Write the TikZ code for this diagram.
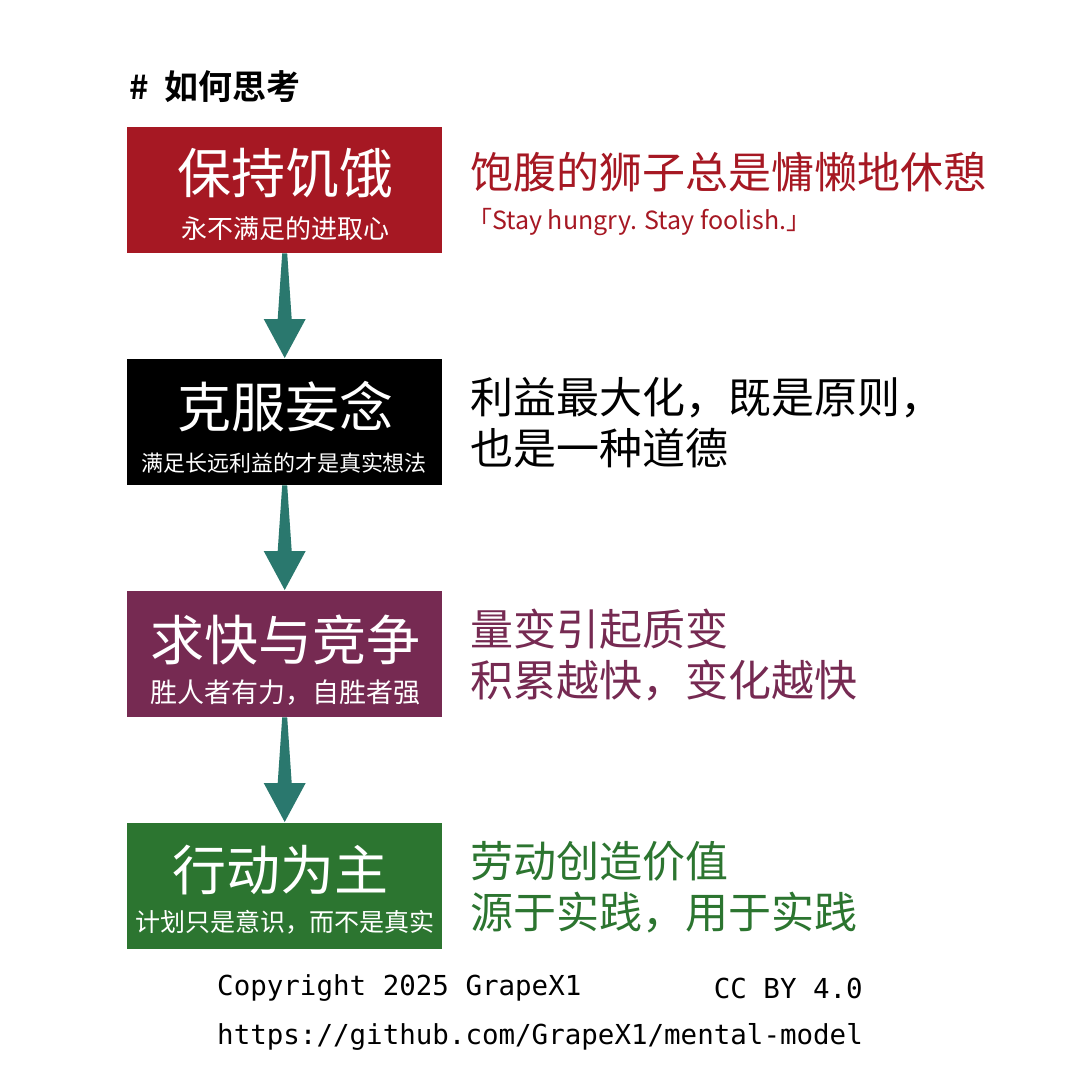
\documentclass[tikz,border=0pt]{standalone}
\usepackage{fontspec}
\usetikzlibrary{calc}
\newfontfamily\cjk{Noto Sans CJK SC}
\newfontfamily\cjkb{Noto Sans CJK SC Bold}
\setmonofont{DejaVu Sans Mono}
\definecolor{cred}{RGB}{166,24,35}
\definecolor{cpurple}{RGB}{118,42,82}
\definecolor{cgreen}{RGB}{44,117,48}
\definecolor{cteal}{RGB}{42,120,110}
\tikzset{
  box/.style={rectangle, minimum width=315pt, minimum height=126pt, inner sep=0pt, draw=none},
  btitle/.style={text=white, inner sep=0pt, font=\cjk\fontsize{54}{54}\selectfont},
  bsub/.style={text=white, inner sep=0pt, font=\cjk\fontsize{#1}{#1}\selectfont},
  rtext/.style={anchor=west, inner sep=0pt, align=left, font=\cjk\fontsize{43}{51}\selectfont},
  foot/.style={inner sep=0pt, font=\ttfamily\fontsize{27.5}{27.5}\selectfont},
  arrowc/.style={fill=cteal}
}
\begin{document}
\begin{tikzpicture}[x=1pt,y=-1pt]
\useasboundingbox[fill=white] (0,0) rectangle (1080,1080);
% heading
\node[anchor=west, inner sep=0pt, font=\cjkb\fontsize{33}{33}\selectfont] (hash) at (129,87) {\#};
\node[anchor=west, inner sep=0pt, font=\cjkb\fontsize{34}{34}\selectfont] (head) at (164,87) {如何思考};
% boxes
\node[box, fill=cred, anchor=north west] (b1) at (127,127) {};
\node[box, fill=black, anchor=north west] (b2) at (127,359) {};
\node[box, fill=cpurple, anchor=north west] (b3) at (127,591) {};
\node[box, fill=cgreen, anchor=north west] (b4) at (127,823) {};
% box texts
\node[btitle] (t1) at (285,173) {保持饥饿};
\node[bsub=26] (s1) at (285,229) {永不满足的进取心};
\node[btitle] (t2) at (285,407) {克服妄念};
\node[bsub=22] (s2) at (284,463) {满足长远利益的才是真实想法};
\node[btitle] (t3) at (285,640) {求快与竞争};
\node[bsub=27] (s3) at (285,693) {胜人者有力，自胜者强};
\node[btitle] (t4) at (280,870) {行动为主};
\node[bsub=25] (s4) at (285,922) {计划只是意识，而不是真实};
% right texts
\node[rtext, text=cred] (r1) at (470,172) {饱腹的狮子总是慵懒地休憩};
\node[anchor=west, inner sep=0pt, text=cred, font=\cjk\fontsize{25}{25}\selectfont] (r1b) at (467,222) {「Stay hungry. Stay foolish.」};
\node[rtext, text=black] (r2) at (470,423) {利益最大化，既是原则，\\也是一种道德};
\node[rtext, text=cpurple] (r3) at (470,655) {量变引起质变\\积累越快，变化越快};
\node[rtext, text=cgreen] (r4) at (470,887) {劳动创造价值\\源于实践，用于实践};
% arrows
\foreach \a/\b in {b1/b2, b2/b3, b3/b4}{
  \fill[arrowc] ($(\a.south)+(-2.5,0)$) -- ($(\a.south)+(2.5,0)$)
     -- ($(\b.north)+(7,-40)$) -- ($(\b.north)+(21,-40)$)
     -- ($(\b.north)+(0,-1)$)
     -- ($(\b.north)+(-21,-40)$) -- ($(\b.north)+(-7,-40)$) -- cycle;
}
% footer
\node[foot, anchor=west] (f1) at (217,988) {Copyright 2025 GrapeX1};
\node[foot, anchor=east] (f2) at (863,988) {CC BY 4.0};
\node[foot, anchor=west] (f3) at (217,1037) {https://github.com/GrapeX1/mental-model};
\end{tikzpicture}
\end{document}
